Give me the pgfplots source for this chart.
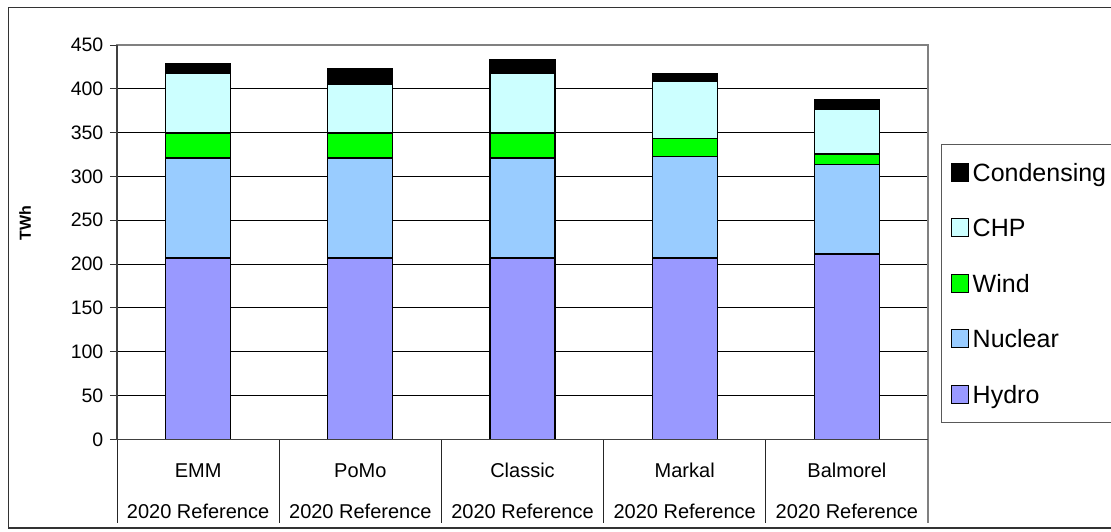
\documentclass[border=0pt]{standalone}
\usepackage{pgfplots}
\pgfplotsset{compat=1.18}
\usepackage{fontspec}
\setmainfont{Liberation Sans}
\definecolor{hydro}{HTML}{9999FF}
\definecolor{nuclear}{HTML}{99CCFF}
\definecolor{wind}{HTML}{00FF00}
\definecolor{chp}{HTML}{CCFFFF}
\definecolor{cond}{HTML}{000000}
\begin{document}
\begin{tikzpicture}
\begin{axis}[
  at={(117pt,-439.3pt)}, anchor=south west,
  scale only axis, width=811pt, height=394.3pt,
  ybar stacked, bar width=0.4,
  xmin=-0.5, xmax=4.5, ymin=0, ymax=450,
  ytick={0,50,...,450},
  xtick={0,1,2,3,4},
  xticklabels={EMM,PoMo,Classic,Markal,Balmorel},
  extra x ticks={0,1,2,3,4},
  extra x tick labels={2020 Reference,2020 Reference,2020 Reference,2020 Reference,2020 Reference},
  extra x tick style={grid=none, xticklabel style={yshift=-41pt}},
  xticklabel style={anchor=base, yshift=-30.7pt, inner sep=0pt, font=\fontsize{20}{20}\selectfont},
  x tick style={draw=none},
  ytick pos=left,
  y tick style={black!80, line width=1pt},
  tick align=outside,
  major tick length=7pt,
  yticklabel style={font=\fontsize{19.5}{19.5}\selectfont, inner sep=0pt, xshift=-6.5pt},
  /pgf/number format/assume math mode=true,
  ymajorgrids,
  grid style={black, line width=0.8pt},
  axis line style={draw=black!50, line width=1.2pt},
  ylabel={\textbf{TWh}},
  ylabel style={at={(axis description cs:-0.1134,0.5486)}, anchor=center, font=\fontsize{16}{16}\selectfont},
  every axis plot/.append style={draw=black, line width=1.2pt},
  legend style={at={(1.0157,0.749)}, anchor=north west, draw=black!65, line width=1pt, fill=white,
    font=\fontsize{25}{25}\selectfont, inner xsep=9.3pt, inner ysep=18.5pt,
    row sep=36.5pt, column sep=4.2pt,
    nodes={inner sep=0pt, text height=17.6pt, text depth=0pt}},
  legend cell align=left,
  reverse legend,
  legend image code/.code={\draw[#1,draw=black,line width=1pt] (0pt,-9pt) rectangle (17pt,9pt);},
  clip=false,
]
\addplot[fill=hydro] coordinates {(0,207) (1,207) (2,207) (3,207) (4,211.5)};
\addlegendentry{Hydro}
\addplot[fill=nuclear] coordinates {(0,114) (1,114) (2,114) (3,116) (4,102)};
\addlegendentry{Nuclear}
\addplot[fill=wind] coordinates {(0,28.5) (1,28.5) (2,28.5) (3,20) (4,12)};
\addlegendentry{Wind}
\addplot[fill=chp] coordinates {(0,68) (1,56) (2,68) (3,65) (4,51.5)};
\addlegendentry{CHP}
\addplot[fill=cond] coordinates {(0,11) (1,18) (2,15.5) (3,9.5) (4,10.5)};
\addlegendentry{Condensing}
\end{axis}
\foreach \x in {117,279.2,441.4,603.6,765.8}
  \draw[black!85, line width=1pt] (\x pt,-439.3pt) -- (\x pt,-523pt);
\draw[black!50, line width=1.2pt] (928pt,-439.3pt) -- (928pt,-523pt);
\draw[black!75, line width=1.3pt] (117pt,-45pt) -- (117pt,-439.3pt) -- (928pt,-439.3pt);
\draw[black!80, line width=1.2pt] (1120pt,-7.3pt) -- (8.3pt,-7.3pt) -- (8.3pt,-528pt) -- (1120pt,-528pt);
\pgfresetboundingbox
\path (0pt,0pt) rectangle (1111pt,-531pt);
\end{tikzpicture}
\end{document}
